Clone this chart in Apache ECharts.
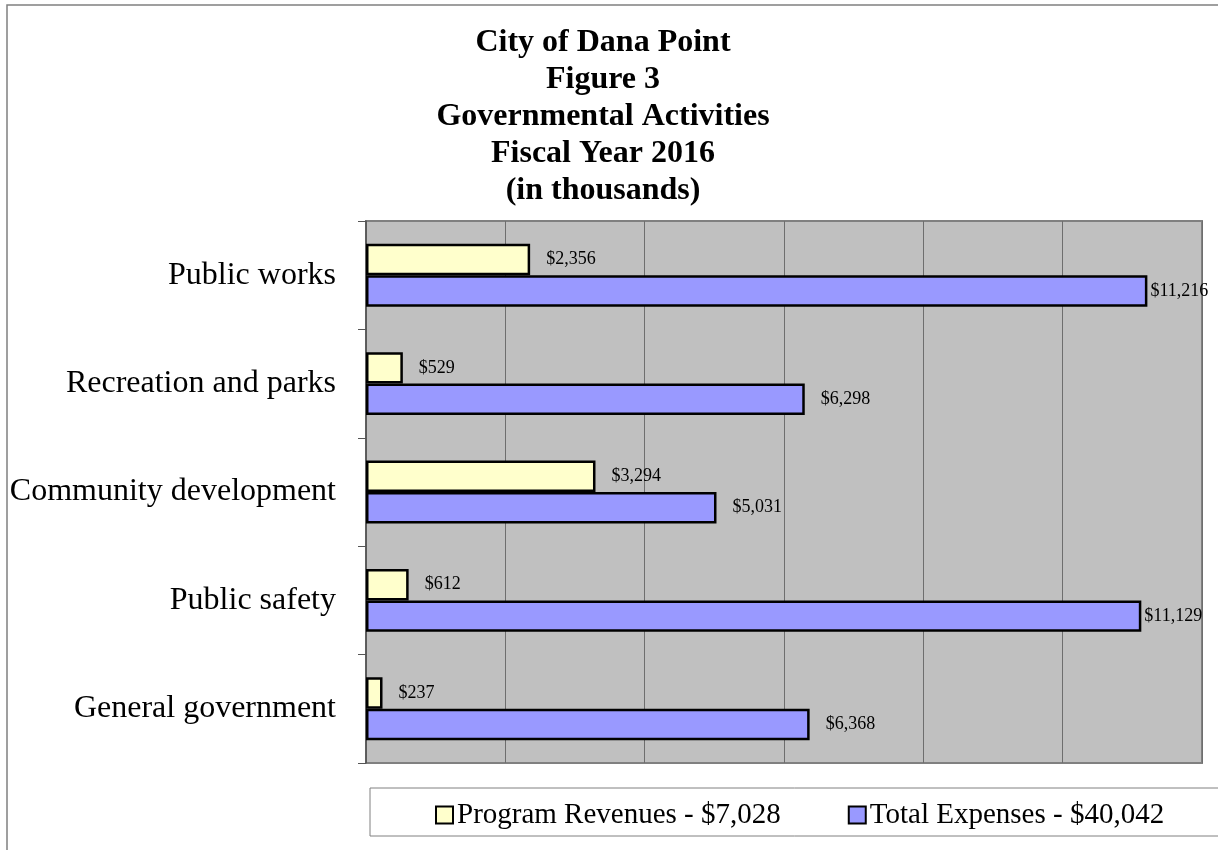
<!DOCTYPE html>
<html>
<head>
<meta charset="utf-8">
<title>City of Dana Point - Figure 3</title>
<script src="https://cdn.jsdelivr.net/npm/echarts@6/dist/echarts.min.js"></script>
<style>
  html, body { margin: 0; padding: 0; background: #fff; }
  #chart { width: 1218px; height: 850px; }
</style>
</head>
<body>
<div id="chart"></div>
<script>
  // categories, bottom to top (category axis starts at the bottom)
  var categories = ['General government', 'Public safety', 'Community development', 'Recreation and parks', 'Public works']
  var programRevenues = [237, 612, 3294, 529, 2356]
  var totalExpenses = [6368, 11129, 5031, 6298, 11216]
  var legendNames = ['Program Revenues - $7,028', 'Total Expenses - $40,042']

  var serif = '"Times New Roman", "Liberation Serif", serif'

  function money(v) {
    return '$' + v.toString().replace(/\B(?=(\d{3})+(?!\d))/g, ',')
  }

  // labels past the right edge sit closer to the bar
  function toItems(arr) {
    return arr.map(function (v) {
      return v > 10000 ? {value: v, label: {distance: 3}} : v
    })
  }

  var chart = echarts.init(document.getElementById('chart'))
  chart.setOption({
    animation: false,
    title: {
      text: 'City of Dana Point\nFigure 3\nGovernmental Activities\nFiscal Year 2016\n(in thousands)',
      left: 598,
      textAlign: 'center',
      top: 19,
      textStyle: {
        fontFamily: serif,
        fontWeight: 'bold',
        fontSize: 32,
        lineHeight: 37,
        color: '#000'
      }
    },
    graphic: [
      {
        type: 'rect',
        shape: {x: 7, y: 5, width: 1300, height: 900},
        style: {fill: 'none', stroke: '#808080', lineWidth: 1.5},
        silent: true
      },
      {
        type: 'rect',
        shape: {x: 370, y: 788, width: 900, height: 48},
        style: {fill: '#fff', stroke: '#808080', lineWidth: 1},
        silent: true,
        z: -1
      }
    ],
    legend: {
      left: 430,
      top: 795,
      itemGap: 67,
      itemWidth: 17,
      itemHeight: 17,
      icon: 'rect',
      textStyle: {fontFamily: serif, fontSize: 29, lineHeight: 30, color: '#000', padding: [0, 0, 0, -1]},
      data: [legendNames[0], legendNames[1]]
    },
    grid: {
      left: 366,
      right: 16,
      top: 221,
      bottom: 87,
      show: true,
      backgroundColor: '#C0C0C0',
      borderColor: '#808080',
      borderWidth: 2
    },
    xAxis: {
      type: 'value',
      min: 0,
      max: 12000,
      interval: 2000,
      axisLabel: {show: false},
      axisLine: {show: false},
      axisTick: {show: false},
      splitLine: {show: true, lineStyle: {color: '#6E6E6E', width: 1}}
    },
    yAxis: {
      type: 'category',
      data: categories,
      axisLine: {show: true, lineStyle: {color: '#555', width: 1.5}},
      axisTick: {show: true, length: 8, lineStyle: {color: '#555'}},
      axisLabel: {
        margin: 30,
        fontFamily: serif,
        fontSize: 32,
        color: '#000',
        padding: [4, 0, 0, 0]
      }
    },
    series: [
      {
        name: legendNames[0],
        type: 'bar',
        barGap: '0%',
        barCategoryGap: '42%',
        data: toItems(programRevenues),
        itemStyle: {color: '#FFFFCC', borderColor: '#000', borderWidth: 2.5},
        label: {
          show: true,
          position: 'right',
          distance: 16,
          fontFamily: serif,
          fontSize: 18,
          color: '#000',
          formatter: function (p) { return money(p.value) }
        }
      },
      {
        name: legendNames[1],
        type: 'bar',
        data: toItems(totalExpenses),
        itemStyle: {color: '#9999FF', borderColor: '#000', borderWidth: 2.5},
        label: {
          show: true,
          position: 'right',
          distance: 16,
          fontFamily: serif,
          fontSize: 18,
          color: '#000',
          formatter: function (p) { return money(p.value) }
        }
      }
    ]
  })
</script>
</body>
</html>
